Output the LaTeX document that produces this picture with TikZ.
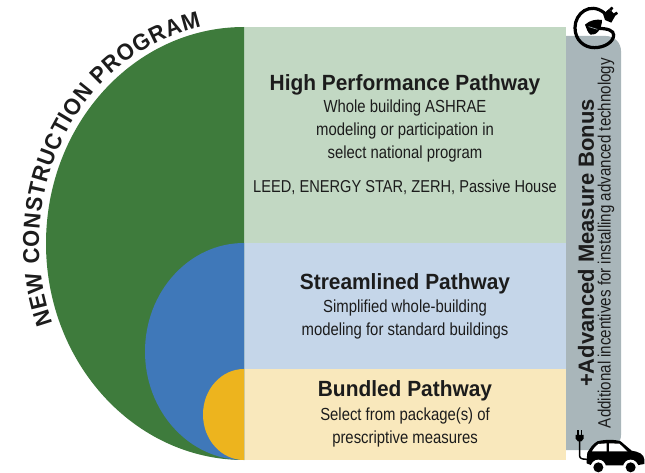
\documentclass[tikz,border=0pt]{standalone}
\usepackage{fontspec}
\setmainfont{Liberation Sans}
\newfontfamily\narrowfam[FakeStretch=0.85]{Liberation Sans}
\newfontfamily\titlefam[FakeStretch=0.95]{Liberation Sans}
\usetikzlibrary{decorations.text}
\definecolor{dgreen}{HTML}{3E7B3C}
\definecolor{dblue}{HTML}{3F78B9}
\definecolor{dyellow}{HTML}{EDB41E}
\definecolor{lgreen}{HTML}{C2D8C3}
\definecolor{lblue}{HTML}{C5D6E9}
\definecolor{lyellow}{HTML}{F9E8BC}
\definecolor{bargray}{HTML}{A9B6BA}
\definecolor{ink}{HTML}{1C1C1C}
\tikzset{
  titletext/.style={font=\titlefam\bfseries\fontsize{22}{24}\selectfont, text=ink, inner sep=0pt},
  bodytext/.style={font=\narrowfam\fontsize{17.5}{22.8}\selectfont, text=ink, align=center, inner sep=0pt},
  icon/.style={fill=black, draw=none}
}
\begin{document}
\begin{tikzpicture}[x=1pt,y=-1pt]
\useasboundingbox (0,0) rectangle (645,473);
% panels
\fill[lgreen] (244,27) rectangle (566,243);
\fill[lblue] (244,243) rectangle (566,369);
\fill[lyellow] (244,369) rectangle (566,460);
% side bar
\fill[bargray] (566,36) -- (606,36) arc[start angle=270,end angle=360,radius=15] -- (621,435) arc[start angle=0,end angle=90,radius=15] -- (566,450) -- cycle;
% half discs
\fill[dgreen] (244,27) arc[start angle=270,end angle=90,x radius=198,y radius=216.5] -- cycle;
\fill[dblue] (244,243) arc[start angle=270,end angle=90,x radius=99,y radius=108.5] -- cycle;
\fill[dyellow] (244,369) arc[start angle=270,end angle=90,x radius=41,y radius=45.5] -- cycle;
% arched title
\path[decorate,decoration={text along path,text align={fit to path},
  text={|\titlefam\bfseries\fontsize{23}{25}\selectfont\color{ink}|NEW CONSTRUCTION PROGRAM}}]
  (244,243.5) ++(159:205 and 222) arc[start angle=159,end angle=258,x radius=205,y radius=222];
% panel texts
\node[titletext] (hpt) at (405,85) {High Performance Pathway};
\node[bodytext] (hpb) at (405,131) {Whole building ASHRAE\\modeling or participation in\\select national program};
\node[bodytext,font=\narrowfam\fontsize{17.2}{22.8}\selectfont] (hpl) at (405,187) {LEED, ENERGY STAR, ZERH, Passive House};
\node[titletext] (slt) at (405,284) {Streamlined Pathway};
\node[bodytext] (slb) at (405,319.5) {Simplified whole-building\\modeling for standard buildings};
\node[titletext] (bdt) at (405,391) {Bundled Pathway};
\node[bodytext] (bdb) at (405,427.5) {Select from package(s) of\\prescriptive measures};
% bar texts
\node[rotate=90,inner sep=0pt,text=ink,font=\bfseries\fontsize{22}{24}\selectfont] (amb) at (586,243) {+Advanced Measure Bonus};
\node[rotate=90,inner sep=0pt,text=ink,font=\narrowfam\fontsize{17.8}{20}\selectfont] (inc) at (606,243) {Additional incentives for installing advanced technology};
% plug and leaf icon
\begin{scope}[shift={(540,0)},x=0.3333pt,y=-0.3333pt]
  \draw[black,line width=3.2pt,line cap=round] (192,38) .. controls (150,5) and (105,40) .. (105,83)
     .. controls (105,120) and (132,143) .. (163,143) .. controls (195,143) and (221,125) .. (221,105)
     .. controls (221,92) and (205,85) .. (170,85);
  \fill[icon] (189,42) -- (207,27) -- (227,45) -- (214,68) -- (195,60) -- cycle;
  \fill[icon] (207,27) -- (215,20) -- (220,25) -- (214,33) -- cycle;
  \fill[icon] (221,40) -- (230,35) -- (234,41) -- (227,47) -- cycle;
  \fill[icon] (135,74) .. controls (150,60) and (170,57) .. (186,60) .. controls (186,85) and (170,108) .. (152,104) .. controls (142,98) and (140,85) .. (135,74) -- cycle;
  \draw[bargray,line width=0.6pt] (146,80) -- (172,88);
\end{scope}
% car and plug icon
\begin{scope}[shift={(540,380)},x=0.3333pt,y=-0.3333pt]
  \fill[icon] (140,238) -- (142,218) .. controls (150,205) and (158,192) .. (172,184)
     .. controls (195,178) and (225,178) .. (242,184) -- (275,212) .. controls (295,215) and (312,222) .. (313,238) -- (313,252)
     -- (290,256) -- (155,256) -- (140,250) -- cycle;
  \fill[white] (175,192) -- (200,190) -- (200,214) -- (156,214) .. controls (162,204) and (168,197) .. (175,192) -- cycle;
  \fill[white] (207,190) -- (238,191) -- (262,214) -- (207,214) -- cycle;
  \fill[white] (175,262) circle[radius=23];
  \fill[white] (272,262) circle[radius=23];
  \fill[icon] (175,262) circle[radius=15];
  \fill[icon] (272,262) circle[radius=15];
  \draw[black,line width=1.5pt] (119,182) -- (119,228) .. controls (119,236) and (128,238) .. (142,238);
  \fill[icon] (107,165) -- (131,165) -- (131,176) -- (124,184) -- (114,184) -- (107,176) -- cycle;
  \fill[icon] (111,150) rectangle (116,165);
  \fill[icon] (122,150) rectangle (127,165);
\end{scope}
\end{tikzpicture}
\end{document}
